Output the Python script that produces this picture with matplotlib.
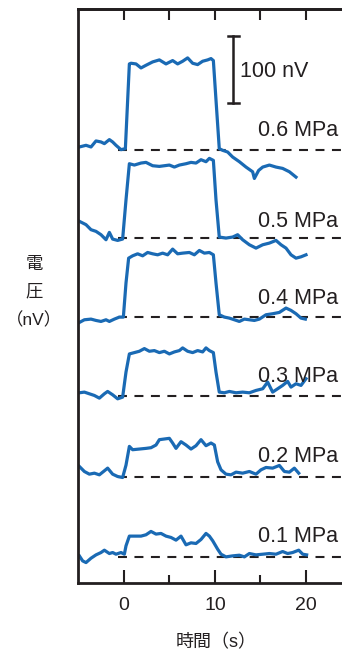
import matplotlib
matplotlib.use("Agg")
from matplotlib import pyplot as plt

plt.rcParams['font.family'] = ['Liberation Sans', 'Noto Sans CJK JP']

# pressure labels, bottom trace first
pressures = ['0.1 MPa', '0.2 MPa', '0.3 MPa', '0.4 MPa', '0.5 MPa', '0.6 MPa']

# time [s] and voltage [nV] of each trace
t_01 = [-4.91, -4.55, -4.18, -3.63, -3.08, -2.53, -2.16, -1.61, -1.25, -0.88, -0.33, 0.04,
        0.22, 0.59, 1.14, 1.87, 2.42, 2.97, 3.52, 4.07, 4.62, 5.17, 5.72, 6.27, 6.82, 7.37,
        7.92, 8.47, 9.02, 9.39, 9.76, 10.30, 10.67, 11.22, 11.95, 12.69, 13.24, 13.79, 14.52,
        15.26, 15.99, 16.72, 17.45, 18.00, 18.55, 19.22, 19.66, 20.09]
v_01 = [1.5, -6, -8.5, -2, 3, 6.5, 10, 5, 6.5, 4, 6.5, 4,
        16.5, 31, 31, 31, 33, 38, 34, 35, 31, 29, 25, 31, 18, 21,
        20, 26, 35, 31, 24, 11.5, 4, 0, 1.5, 2.5, 0, 5, 3,
        4, 5, 4, 8, 5, 6.5, 10, 4, 3]

t_02 = [-4.91, -4.36, -3.81, -3.26, -2.71, -2.16, -1.80, -1.25, -0.70, -0.15,
        0.22, 0.59, 0.95, 1.69, 2.42, 2.97, 3.52, 3.89, 4.44, 4.99, 5.35, 5.72, 6.27, 6.82,
        7.37, 7.92, 8.47, 9.02, 9.57, 9.94, 10.30, 10.67, 11.22, 11.77, 12.32, 13.05, 13.79,
        14.52, 15.07, 15.62, 16.35, 17.09, 17.64, 18.19, 18.74, 19.22]
v_02 = [15, 7.5, 3.5, 5, 2.5, 8.5, 12.5, 3.5, 0, -1.5,
        17, 45, 40, 41, 42, 43, 47, 55, 56, 57, 50, 42, 52, 47,
        41, 46, 55, 46, 50, 47, 22, 10, 3.5, 2.5, 6.5, 5, 7.5,
        3.5, 10, 13.5, 12.5, 16.5, 7.5, 6.5, 12.5, 5]

t_03 = [-4.91, -4.36, -3.81, -3.26, -2.71, -2.16, -1.80, -1.25, -0.70, -0.15,
        0.22, 0.59, 1.14, 1.69, 2.24, 2.79, 3.34, 3.89, 4.44, 4.99, 5.54, 6.09, 6.45, 7.00,
        7.55, 8.10, 8.65, 9.02, 9.39, 9.83, 10.12, 10.48, 11.04, 11.59, 12.32, 13.05, 13.79,
        14.52, 15.26, 15.80, 16.35, 16.90, 17.45, 18.00, 18.37, 18.92, 19.47, 20.02]
v_03 = [5, 6, 3.5, 1, -3, 3.5, 7, 2, -4, -1.5,
        36, 63, 65, 67, 71, 67, 68, 65, 67, 63, 66, 68, 72, 67,
        65, 68, 66, 72, 68, 65, 36, 6, 5, 7, 5, 6, 5,
        8.5, 11, 21, 6, 11, 16, 22, 13.5, 18.5, 16, 26]

t_04 = [-4.91, -4.36, -3.63, -3.08, -2.53, -1.98, -1.61, -1.06, -0.51, -0.07,
        0.22, 0.51, 0.95, 1.50, 2.05, 2.60, 3.15, 3.70, 4.25, 4.80, 5.35, 5.90, 6.45, 7.19,
        7.74, 8.29, 8.84, 9.39, 9.83, 10.12, 10.48, 11.04, 11.59, 12.14, 12.69, 13.24, 13.79,
        14.34, 14.89, 15.62, 16.35, 17.09, 17.82, 18.37, 18.92, 19.47, 19.95]
v_04 = [-8, -4, -3, -5, -6.5, -4, -6.5, -3, 0, 0,
        51, 88, 91.5, 94.5, 91.5, 96.5, 94.5, 93, 95.5, 93, 101.5, 94.5, 95.5, 96.5,
        93, 99.5, 95.5, 96.5, 93, 51, 3.5, 0, -1.5, -4, -6.5, -3, -4,
        -5, -3, 3.5, 5, 7, 13.5, 10, 5, -1.5, -3]

t_05 = [-4.91, -4.18, -3.63, -3.08, -2.53, -1.98, -1.61, -1.25, -0.70, -0.15,
        0.22, 0.59, 1.14, 1.87, 2.42, 3.15, 3.89, 4.44, 4.99, 5.54, 6.09, 6.82, 7.37, 7.92,
        8.47, 9.02, 9.39, 9.83, 10.12, 10.48, 11.22, 11.95, 12.50, 13.05, 13.79, 14.52,
        15.26, 15.99, 16.72, 17.27, 17.82, 18.37, 18.92, 19.47, 20.02]
v_05 = [25, 20, 12.5, 10, 5, -2.5, 8.5, -1.5, -3.5, -1.5,
        57, 111, 109, 112, 113, 108, 107, 108, 109, 106, 109, 111, 113, 112,
        117, 114, 119, 116, 57, 1.5, 0, 1.5, 5, -2.5, -10, -15,
        -10, -7.5, -3.5, -10, -15, -25, -30, -28, -25]

t_06 = [-4.91, -4.18, -3.63, -3.08, -2.53, -2.16, -1.61, -1.25, -0.88, -0.33, 0.15,
        0.59, 0.77, 1.32, 1.87, 2.42, 3.15, 3.89, 4.62, 5.35, 5.90, 6.45, 7.00, 7.55, 8.10,
        8.65, 9.20, 9.57, 9.83, 10.12, 10.48, 10.85, 11.40, 11.95, 12.69, 13.42, 14.15, 14.34,
        14.81, 15.26, 15.99, 16.72, 17.45, 18.19, 18.92]
v_06 = [5, 7.5, 5, 14, 12.5, 10, 16, 12.5, 7.5, 1, 2.5,
        129, 130, 129, 123, 127, 132, 135, 129, 134, 129, 133, 138, 130, 128,
        133, 135, 137, 134, 75, 2.5, 0, -2.5, -10, -17, -25, -32, -42,
        -30, -25, -22, -25, -27, -32, -40]

times = [t_01, t_02, t_03, t_04, t_05, t_06]
volts = [v_01, v_02, v_03, v_04, v_05, v_06]

# vertical stacking of the traces (nV)
offsets = [0, 120, 240, 358, 476, 607]
label_lift = [30, 30, 30, 28, 24, 30]

blue = '#1a6ab4'
ink = '#231f20'

fig = plt.figure(figsize=(3.42, 6.54), dpi=100)
ax = fig.add_axes([78 / 342, 1 - 583 / 654, 264 / 342, 574 / 654])

for t, v, off, name, lift in zip(times, volts, offsets, pressures, label_lift):
  ax.plot([-0.7, 24.5], [off, off], color=ink, lw=1.5, dashes=(4.3, 3.6), zorder=1)
  ax.plot(t, [x + off for x in v], color=blue, lw=2.3, solid_joinstyle='round', zorder=2)
  ax.text(23.55, off + lift, name, ha='right', va='center', fontsize=15.5, color=ink)

# scale bar, 100 nV
ax.plot([12.0, 12.0], [678, 778], color=ink, lw=1.8)
ax.plot([11.4, 12.6], [778, 778], color=ink, lw=1.8)
ax.plot([11.4, 12.6], [678, 678], color=ink, lw=1.8)
ax.text(12.75, 725, '100 nV', ha='left', va='center', fontsize=15.5, color=ink)

ax.set_xlim(-5.06, 23.98)
ax.set_ylim(-39, 818)

for side in ['left', 'bottom', 'top']:
  ax.spines[side].set_linewidth(2)
  ax.spines[side].set_color(ink)
ax.spines['right'].set_visible(False)

ax.set_yticks([])
ax.set_xticks([0, 10, 20])
ax.set_xticks([5, 15], minor=True)
ax.tick_params(axis='x', which='major', direction='in', length=9.5, width=1.5,
               labelsize=14, colors=ink, pad=10)
ax.tick_params(axis='x', which='minor', direction='in', length=5.8, width=1.5, colors=ink)

top = ax.secondary_xaxis('top')
top.set_xticks([0, 5, 10, 15, 20])
top.set_xticklabels([])
top.tick_params(direction='in', length=8, width=1.5, colors=ink)
top.spines['top'].set_linewidth(2)
top.spines['top'].set_color(ink)

fig.text(216 / 342, 1 - 643 / 654, '時間（s）', ha='center', va='center', fontsize=13, color=ink)
fig.text(34 / 342, 1 - 265 / 654, '電', ha='center', va='center', fontsize=12.5, color=ink)
fig.text(34 / 342, 1 - 292 / 654, '圧', ha='center', va='center', fontsize=12.5, color=ink)
fig.text(34 / 342, 1 - 320 / 654, '（nV）', ha='center', va='center', fontsize=12.5, color=ink)

fig.savefig('out.png', dpi=100)
